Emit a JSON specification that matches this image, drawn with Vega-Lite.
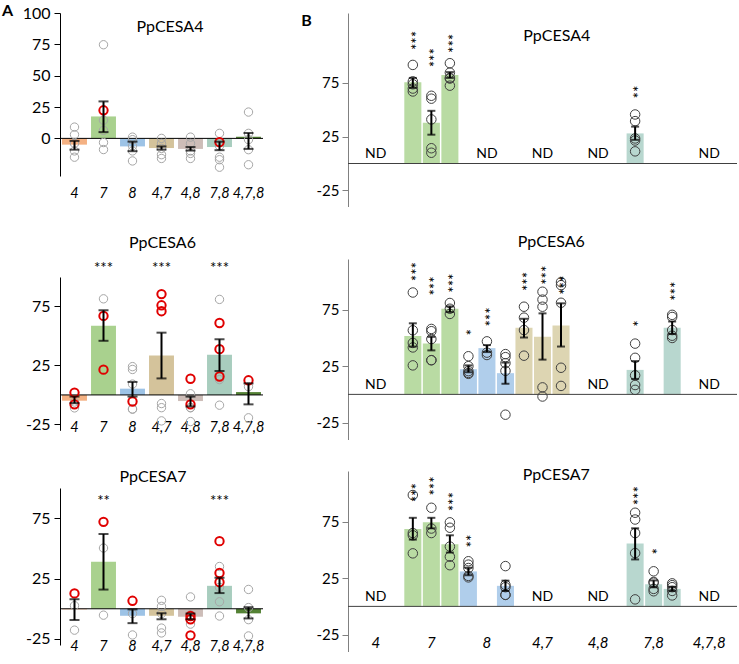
{
"$schema":"https://vega.github.io/schema/vega-lite/v6.json",
"padding":{"left":2,"top":3,"right":0,"bottom":0},
"config":{
 "font":"Lato",
 "view":{"stroke":null},
 "axis":{"grid":false,"labelFont":"Lato","labelColor":"#000","labelOverlap":false},
 "text":{"font":"Lato","color":"#000"}
},
"datasets":{
 "aBars":[
  {"gene":"CESA4","geno":"4","mean":-5,"lo":-9,"hi":-2},
  {"gene":"CESA4","geno":"7","mean":17.5,"lo":5,"hi":29.5},
  {"gene":"CESA4","geno":"8","mean":-6.4,"lo":-10.2,"hi":-2.6},
  {"gene":"CESA4","geno":"4,7","mean":-7.7,"lo":-8.9,"hi":-6.4},
  {"gene":"CESA4","geno":"4,8","mean":-8.4,"lo":-9.7,"hi":-6.9},
  {"gene":"CESA4","geno":"7,8","mean":-6.9,"lo":-9.4,"hi":-2.6},
  {"gene":"CESA4","geno":"4,7,8","mean":1.3,"lo":-8.4,"hi":4.3},
  {"gene":"CESA6","geno":"4","mean":-4.9,"lo":-6.9,"hi":-1.4},
  {"gene":"CESA6","geno":"7","mean":58.6,"lo":45.9,"hi":71.8,"sig":"***"},
  {"gene":"CESA6","geno":"8","mean":5.3,"lo":-1.4,"hi":11},
  {"gene":"CESA6","geno":"4,7","mean":33.5,"lo":14,"hi":52.8,"sig":"***"},
  {"gene":"CESA6","geno":"4,8","mean":-5.2,"lo":-9.7,"hi":-1.4},
  {"gene":"CESA6","geno":"7,8","mean":34,"lo":20.3,"hi":47.2,"sig":"***"},
  {"gene":"CESA6","geno":"4,7,8","mean":2.4,"lo":-8,"hi":9.8},
  {"gene":"CESA7","geno":"4","mean":-0.5,"lo":-9.3,"hi":7.9},
  {"gene":"CESA7","geno":"7","mean":38.9,"lo":15.9,"hi":61.9,"sig":"**"},
  {"gene":"CESA7","geno":"8","mean":-5.8,"lo":-11.9,"hi":-0.5},
  {"gene":"CESA7","geno":"4,7","mean":-5.8,"lo":-8.7,"hi":-3.7},
  {"gene":"CESA7","geno":"4,8","mean":-6.6,"lo":-8.7,"hi":-4},
  {"gene":"CESA7","geno":"7,8","mean":19,"lo":13,"hi":25.7,"sig":"***"},
  {"gene":"CESA7","geno":"4,7,8","mean":-3.8,"lo":-8,"hi":1.3}
 ],
 "aPts":[
  {"gene":"CESA4","geno":"4","value":9,"kind":"g"},{"gene":"CESA4","geno":"4","value":3,"kind":"g"},{"gene":"CESA4","geno":"4","value":-4,"kind":"g"},{"gene":"CESA4","geno":"4","value":-10,"kind":"g"},{"gene":"CESA4","geno":"4","value":-15,"kind":"g"},
  {"gene":"CESA4","geno":"7","value":74.7,"kind":"g"},{"gene":"CESA4","geno":"7","value":14.5,"kind":"g"},{"gene":"CESA4","geno":"7","value":6.4,"kind":"g"},{"gene":"CESA4","geno":"7","value":-3.3,"kind":"g"},{"gene":"CESA4","geno":"7","value":-8.9,"kind":"g"},{"gene":"CESA4","geno":"7","value":22.4,"kind":"r"},
  {"gene":"CESA4","geno":"8","value":1,"kind":"g"},{"gene":"CESA4","geno":"8","value":-1,"kind":"g"},{"gene":"CESA4","geno":"8","value":-6,"kind":"g"},{"gene":"CESA4","geno":"8","value":-10,"kind":"g"},{"gene":"CESA4","geno":"8","value":-18,"kind":"g"},
  {"gene":"CESA4","geno":"4,7","value":0,"kind":"g"},{"gene":"CESA4","geno":"4,7","value":-4,"kind":"g"},{"gene":"CESA4","geno":"4,7","value":-8,"kind":"g"},{"gene":"CESA4","geno":"4,7","value":-13,"kind":"g"},{"gene":"CESA4","geno":"4,7","value":-16,"kind":"g"},
  {"gene":"CESA4","geno":"4,8","value":1,"kind":"g"},{"gene":"CESA4","geno":"4,8","value":-4,"kind":"g"},{"gene":"CESA4","geno":"4,8","value":-10,"kind":"g"},{"gene":"CESA4","geno":"4,8","value":-12,"kind":"g"},{"gene":"CESA4","geno":"4,8","value":-16,"kind":"g"},
  {"gene":"CESA4","geno":"7,8","value":4,"kind":"g"},{"gene":"CESA4","geno":"7,8","value":-6,"kind":"g"},{"gene":"CESA4","geno":"7,8","value":-15,"kind":"g"},{"gene":"CESA4","geno":"7,8","value":-17,"kind":"g"},{"gene":"CESA4","geno":"7,8","value":-23,"kind":"g"},{"gene":"CESA4","geno":"7,8","value":-3,"kind":"r"},
  {"gene":"CESA4","geno":"4,7,8","value":21,"kind":"g"},{"gene":"CESA4","geno":"4,7,8","value":4,"kind":"g"},{"gene":"CESA4","geno":"4,7,8","value":-1,"kind":"g"},{"gene":"CESA4","geno":"4,7,8","value":-9,"kind":"g"},{"gene":"CESA4","geno":"4,7,8","value":-21,"kind":"g"},
  {"gene":"CESA6","geno":"4","value":-11,"kind":"g"},{"gene":"CESA6","geno":"4","value":-6,"kind":"g"},{"gene":"CESA6","geno":"4","value":2,"kind":"r"},{"gene":"CESA6","geno":"4","value":-8,"kind":"r"},
  {"gene":"CESA6","geno":"7","value":81.5,"kind":"g"},{"gene":"CESA6","geno":"7","value":67,"kind":"r"},{"gene":"CESA6","geno":"7","value":21.4,"kind":"r"},
  {"gene":"CESA6","geno":"8","value":21.6,"kind":"g"},{"gene":"CESA6","geno":"8","value":24,"kind":"g"},{"gene":"CESA6","geno":"8","value":9.2,"kind":"g"},{"gene":"CESA6","geno":"8","value":-12,"kind":"g"},{"gene":"CESA6","geno":"8","value":-12,"kind":"g"},{"gene":"CESA6","geno":"8","value":-5.6,"kind":"r"},
  {"gene":"CESA6","geno":"4,7","value":-7.3,"kind":"g"},{"gene":"CESA6","geno":"4,7","value":-10.8,"kind":"g"},{"gene":"CESA6","geno":"4,7","value":-22,"kind":"g"},{"gene":"CESA6","geno":"4,7","value":71,"kind":"r"},{"gene":"CESA6","geno":"4,7","value":76,"kind":"r"},{"gene":"CESA6","geno":"4,7","value":85.5,"kind":"r"},
  {"gene":"CESA6","geno":"4,8","value":-10.8,"kind":"g"},{"gene":"CESA6","geno":"4,8","value":-10.8,"kind":"g"},{"gene":"CESA6","geno":"4,8","value":-22.6,"kind":"g"},{"gene":"CESA6","geno":"4,8","value":1,"kind":"g"},{"gene":"CESA6","geno":"4,8","value":13.7,"kind":"r"},{"gene":"CESA6","geno":"4,8","value":-8,"kind":"r"},
  {"gene":"CESA6","geno":"7,8","value":81,"kind":"g"},{"gene":"CESA6","geno":"7,8","value":13,"kind":"g"},{"gene":"CESA6","geno":"7,8","value":-8.7,"kind":"g"},{"gene":"CESA6","geno":"7,8","value":61,"kind":"r"},{"gene":"CESA6","geno":"7,8","value":38.8,"kind":"r"},{"gene":"CESA6","geno":"7,8","value":15.6,"kind":"r"},
  {"gene":"CESA6","geno":"4,7,8","value":7,"kind":"g"},{"gene":"CESA6","geno":"4,7,8","value":-19.4,"kind":"g"},{"gene":"CESA6","geno":"4,7,8","value":12.4,"kind":"r"},
  {"gene":"CESA7","geno":"4","value":2.6,"kind":"g"},{"gene":"CESA7","geno":"4","value":-17.7,"kind":"g"},{"gene":"CESA7","geno":"4","value":12.7,"kind":"r"},
  {"gene":"CESA7","geno":"7","value":50.3,"kind":"g"},{"gene":"CESA7","geno":"7","value":-5.3,"kind":"g"},{"gene":"CESA7","geno":"7","value":72,"kind":"r"},
  {"gene":"CESA7","geno":"8","value":-4,"kind":"g"},{"gene":"CESA7","geno":"8","value":-21.7,"kind":"g"},{"gene":"CESA7","geno":"8","value":6.6,"kind":"r"},
  {"gene":"CESA7","geno":"4,7","value":2,"kind":"g"},{"gene":"CESA7","geno":"4,7","value":7,"kind":"g"},{"gene":"CESA7","geno":"4,7","value":-4,"kind":"g"},{"gene":"CESA7","geno":"4,7","value":-16,"kind":"g"},{"gene":"CESA7","geno":"4,7","value":-20,"kind":"g"},
  {"gene":"CESA7","geno":"4,8","value":9.8,"kind":"g"},{"gene":"CESA7","geno":"4,8","value":-12.7,"kind":"g"},{"gene":"CESA7","geno":"4,8","value":-5,"kind":"g"},{"gene":"CESA7","geno":"4,8","value":-6,"kind":"r"},{"gene":"CESA7","geno":"4,8","value":-8.7,"kind":"r"},{"gene":"CESA7","geno":"4,8","value":-22,"kind":"r"},
  {"gene":"CESA7","geno":"7,8","value":35,"kind":"g"},{"gene":"CESA7","geno":"7,8","value":17.7,"kind":"g"},{"gene":"CESA7","geno":"7,8","value":5.8,"kind":"g"},{"gene":"CESA7","geno":"7,8","value":-6,"kind":"g"},{"gene":"CESA7","geno":"7,8","value":56,"kind":"r"},{"gene":"CESA7","geno":"7,8","value":29.6,"kind":"r"},{"gene":"CESA7","geno":"7,8","value":22,"kind":"r"},
  {"gene":"CESA7","geno":"4,7,8","value":16,"kind":"g"},{"gene":"CESA7","geno":"4,7,8","value":1,"kind":"g"},{"gene":"CESA7","geno":"4,7,8","value":-9,"kind":"g"},{"gene":"CESA7","geno":"4,7,8","value":-22.5,"kind":"g"}
 ],
 "bBars":[
  {"gene":"CESA4","grp":"7","slot":"7|1","mean":75.6,"lo":70.5,"hi":79.6,"sig":"***","sy":120.6},
  {"gene":"CESA4","grp":"7","slot":"7|2","mean":38,"lo":26.8,"hi":49,"sig":"***","sy":104.6},
  {"gene":"CESA4","grp":"7","slot":"7|3","mean":82.3,"lo":79.6,"hi":85,"sig":"***","sy":118},
  {"gene":"CESA4","grp":"7,8","slot":"7,8|1","mean":28,"lo":22,"hi":34.3,"sig":"**","sy":69.7},
  {"gene":"CESA6","grp":"7","slot":"7|1","mean":51.7,"lo":42.4,"hi":63,"sig":"***","sy":114.7},
  {"gene":"CESA6","grp":"7","slot":"7|2","mean":45,"lo":39,"hi":51,"sig":"***","sy":102},
  {"gene":"CESA6","grp":"7","slot":"7|3","mean":75.9,"lo":73,"hi":78,"sig":"***","sy":104.5},
  {"gene":"CESA6","grp":"8","slot":"8|1","mean":22.3,"lo":19.6,"hi":25.7,"sig":"*","sy":55.2},
  {"gene":"CESA6","grp":"8","slot":"8|2","mean":41,"lo":37.5,"hi":43.7,"sig":"***","sy":74.5},
  {"gene":"CESA6","grp":"8","slot":"8|3","mean":18.8,"lo":9.4,"hi":28.2},
  {"gene":"CESA6","grp":"4,7","slot":"4,7|1","mean":59,"lo":50.4,"hi":67,"sig":"***","sy":106},
  {"gene":"CESA6","grp":"4,7","slot":"4,7|2","mean":51,"lo":30.8,"hi":71.8,"sig":"***","sy":111.5},
  {"gene":"CESA6","grp":"4,7","slot":"4,7|3","mean":61,"lo":42.4,"hi":80.7,"sig":"***","sy":102.7},
  {"gene":"CESA6","grp":"7,8","slot":"7,8|1","mean":21.7,"lo":13.7,"hi":29.5,"sig":"*","sy":63},
  {"gene":"CESA6","grp":"7,8","slot":"7,8|3","mean":59,"lo":53.6,"hi":64.6,"sig":"***","sy":97.3},
  {"gene":"CESA7","grp":"7","slot":"7|1","mean":68.6,"lo":59.2,"hi":78.5,"sig":"***","sy":106.7},
  {"gene":"CESA7","grp":"7","slot":"7|2","mean":74.5,"lo":69.2,"hi":78.5,"sig":"***","sy":112.6},
  {"gene":"CESA7","grp":"7","slot":"7|3","mean":55,"lo":47.7,"hi":63,"sig":"***","sy":98.7},
  {"gene":"CESA7","grp":"8","slot":"8|1","mean":31,"lo":27.6,"hi":34.3,"sig":"**","sy":61},
  {"gene":"CESA7","grp":"8","slot":"8|3","mean":18.2,"lo":13.7,"hi":22.8},
  {"gene":"CESA7","grp":"7,8","slot":"7,8|1","mean":55.8,"lo":41.6,"hi":69.2,"sig":"***","sy":104},
  {"gene":"CESA7","grp":"7,8","slot":"7,8|2","mean":19.6,"lo":16.9,"hi":23,"sig":"*","sy":49},
  {"gene":"CESA7","grp":"7,8","slot":"7,8|3","mean":15.5,"lo":13.7,"hi":17.4}
 ],
 "bPts":[
  {"gene":"CESA4","slot":"7|1","value":91.7},{"gene":"CESA4","slot":"7|1","value":76.4},{"gene":"CESA4","slot":"7|1","value":73.7},{"gene":"CESA4","slot":"7|1","value":69.7},{"gene":"CESA4","slot":"7|1","value":67},
  {"gene":"CESA4","slot":"7|2","value":63},{"gene":"CESA4","slot":"7|2","value":60.3},{"gene":"CESA4","slot":"7|2","value":41},{"gene":"CESA4","slot":"7|2","value":14.2},{"gene":"CESA4","slot":"7|2","value":10},
  {"gene":"CESA4","slot":"7|3","value":93.3},{"gene":"CESA4","slot":"7|3","value":84.5},{"gene":"CESA4","slot":"7|3","value":79.6},{"gene":"CESA4","slot":"7|3","value":79},{"gene":"CESA4","slot":"7|3","value":72.4},
  {"gene":"CESA4","slot":"7,8|1","value":45.6},{"gene":"CESA4","slot":"7,8|1","value":39.4},{"gene":"CESA4","slot":"7,8|1","value":23.3},{"gene":"CESA4","slot":"7,8|1","value":21.4},{"gene":"CESA4","slot":"7,8|1","value":11.3},
  {"gene":"CESA6","slot":"7|1","value":90.3},{"gene":"CESA6","slot":"7|1","value":56.8},{"gene":"CESA6","slot":"7|1","value":45.6},{"gene":"CESA6","slot":"7|1","value":41.6},{"gene":"CESA6","slot":"7|1","value":25.7},
  {"gene":"CESA6","slot":"7|2","value":58},{"gene":"CESA6","slot":"7|2","value":56},{"gene":"CESA6","slot":"7|2","value":49},{"gene":"CESA6","slot":"7|2","value":30.3},{"gene":"CESA6","slot":"7|2","value":30.3},
  {"gene":"CESA6","slot":"7|3","value":81},{"gene":"CESA6","slot":"7|3","value":75.9},{"gene":"CESA6","slot":"7|3","value":71.3},
  {"gene":"CESA6","slot":"8|1","value":33.8},{"gene":"CESA6","slot":"8|1","value":25},{"gene":"CESA6","slot":"8|1","value":20.6},{"gene":"CESA6","slot":"8|1","value":18.2},{"gene":"CESA6","slot":"8|1","value":19},
  {"gene":"CESA6","slot":"8|2","value":47},{"gene":"CESA6","slot":"8|2","value":37},{"gene":"CESA6","slot":"8|2","value":34.9},
  {"gene":"CESA6","slot":"8|3","value":35.7},{"gene":"CESA6","slot":"8|3","value":33},{"gene":"CESA6","slot":"8|3","value":27.6},{"gene":"CESA6","slot":"8|3","value":20.9},{"gene":"CESA6","slot":"8|3","value":-18},
  {"gene":"CESA6","slot":"4,7|1","value":77.7},{"gene":"CESA6","slot":"4,7|1","value":68},{"gene":"CESA6","slot":"4,7|1","value":57},{"gene":"CESA6","slot":"4,7|1","value":34.3},
  {"gene":"CESA6","slot":"4,7|2","value":91},{"gene":"CESA6","slot":"4,7|2","value":84},{"gene":"CESA6","slot":"4,7|2","value":77.7},{"gene":"CESA6","slot":"4,7|2","value":6.2},{"gene":"CESA6","slot":"4,7|2","value":-1.9},
  {"gene":"CESA6","slot":"4,7|3","value":99.5},{"gene":"CESA6","slot":"4,7|3","value":96.8},{"gene":"CESA6","slot":"4,7|3","value":81.2},{"gene":"CESA6","slot":"4,7|3","value":23.6},{"gene":"CESA6","slot":"4,7|3","value":7.5},
  {"gene":"CESA6","slot":"7,8|1","value":45},{"gene":"CESA6","slot":"7,8|1","value":32.4},{"gene":"CESA6","slot":"7,8|1","value":16.9},{"gene":"CESA6","slot":"7,8|1","value":8.3},{"gene":"CESA6","slot":"7,8|1","value":4},
  {"gene":"CESA6","slot":"7,8|3","value":70.5},{"gene":"CESA6","slot":"7,8|3","value":68.6},{"gene":"CESA6","slot":"7,8|3","value":57},{"gene":"CESA6","slot":"7,8|3","value":52},{"gene":"CESA6","slot":"7,8|3","value":50},
  {"gene":"CESA7","slot":"7|1","value":98.7},{"gene":"CESA7","slot":"7|1","value":65},{"gene":"CESA7","slot":"7|1","value":63},{"gene":"CESA7","slot":"7|1","value":47},
  {"gene":"CESA7","slot":"7|2","value":87.4},{"gene":"CESA7","slot":"7|2","value":69},{"gene":"CESA7","slot":"7|2","value":65},
  {"gene":"CESA7","slot":"7|3","value":74.5},{"gene":"CESA7","slot":"7|3","value":69.7},{"gene":"CESA7","slot":"7|3","value":53},{"gene":"CESA7","slot":"7|3","value":44},{"gene":"CESA7","slot":"7|3","value":36.5},
  {"gene":"CESA7","slot":"8|1","value":40},{"gene":"CESA7","slot":"8|1","value":37},{"gene":"CESA7","slot":"8|1","value":34},{"gene":"CESA7","slot":"8|1","value":27},{"gene":"CESA7","slot":"8|1","value":25.7},
  {"gene":"CESA7","slot":"8|3","value":35.7},{"gene":"CESA7","slot":"8|3","value":19},{"gene":"CESA7","slot":"8|3","value":17},{"gene":"CESA7","slot":"8|3","value":10.2},{"gene":"CESA7","slot":"8|3","value":10.2},
  {"gene":"CESA7","slot":"7,8|1","value":83},{"gene":"CESA7","slot":"7,8|1","value":77},{"gene":"CESA7","slot":"7,8|1","value":65},{"gene":"CESA7","slot":"7,8|1","value":47.2},{"gene":"CESA7","slot":"7,8|1","value":6.2},
  {"gene":"CESA7","slot":"7,8|2","value":31.1},{"gene":"CESA7","slot":"7,8|2","value":21.7},{"gene":"CESA7","slot":"7,8|2","value":21},{"gene":"CESA7","slot":"7,8|2","value":15.5},{"gene":"CESA7","slot":"7,8|2","value":13.4},
  {"gene":"CESA7","slot":"7,8|3","value":20.4},{"gene":"CESA7","slot":"7,8|3","value":18.8},{"gene":"CESA7","slot":"7,8|3","value":17},{"gene":"CESA7","slot":"7,8|3","value":13.7},{"gene":"CESA7","slot":"7,8|3","value":9.7}
 ],
 "nd":[
  {"gene":"CESA4","slot":"4|2"},{"gene":"CESA4","slot":"8|2"},{"gene":"CESA4","slot":"4,7|2"},{"gene":"CESA4","slot":"4,8|2"},{"gene":"CESA4","slot":"4,7,8|2"},
  {"gene":"CESA6","slot":"4|2"},{"gene":"CESA6","slot":"4,8|2"},{"gene":"CESA6","slot":"4,7,8|2"},
  {"gene":"CESA7","slot":"4|2"},{"gene":"CESA7","slot":"4,7|2"},{"gene":"CESA7","slot":"4,8|2"},{"gene":"CESA7","slot":"4,7,8|2"}
 ]
},
"spacing":37,
"resolve":{"scale":{"x":"independent","y":"independent","color":"independent"}},
"hconcat":[
 {"spacing":34,
  "resolve":{"scale":{"x":"independent","y":"independent","color":"independent"}},
  "vconcat":[
  {"width":203,"height":163,
   "layer":[
    {"data":{"name":"aBars"},"transform":[{"filter":"datum.gene=='CESA4'"}],"mark":{"type":"bar","width":{"band":0.86}},
     "encoding":{
      "x":{"field":"geno","type":"nominal","scale":{"domain":["4","7","8","4,7","4,8","7,8","4,7,8"],"paddingInner":0,"paddingOuter":0},"axis":{"title":null,"domain":false,"ticks":false,"tickSize":0,"labelAngle":0,"labelFontStyle":"italic","labelFontSize":14.5,"labelPadding":10}},
      "y":{"field":"mean","type":"quantitative","scale":{"domain":[-25,100]},"axis":{"values":[0,25,50,75,100],"labelExpr":"''+datum.value","title":null,"tickSize":6,"tickColor":"#000","domainColor":"#000","labelFontSize":16,"labelPadding":4}},
      "y2":{"datum":0},
      "color":{"field":"geno","type":"nominal","scale":{"domain":["4","7","8","4,7","4,8","7,8","4,7,8"],"range":["#F4B183","#A9D18E","#9DC3E6","#D4C39B","#CDBDB8","#A8CDBE","#548235"]},"legend":null}}},
    {"data":{"values":[{}]},"mark":{"type":"rule","color":"#000","strokeWidth":1},"encoding":{"y":{"datum":0}}},
    {"data":{"name":"aPts"},"transform":[{"filter":"datum.gene=='CESA4' && datum.kind=='g'"}],"mark":{"type":"point","filled":false,"size":70,"stroke":"#A6A6A6","strokeWidth":1,"opacity":1},"encoding":{"x":{"field":"geno","type":"nominal"},"y":{"field":"value","type":"quantitative"}}},
    {"data":{"name":"aPts"},"transform":[{"filter":"datum.gene=='CESA4' && datum.kind=='r'"}],"mark":{"type":"point","filled":false,"size":70,"stroke":"#E00000","strokeWidth":2,"opacity":1},"encoding":{"x":{"field":"geno","type":"nominal"},"y":{"field":"value","type":"quantitative"}}},
    {"data":{"name":"aBars"},"transform":[{"filter":"datum.gene=='CESA4'"}],"mark":{"type":"rule","strokeWidth":2,"color":"#000"},"encoding":{"x":{"field":"geno","type":"nominal"},"y":{"field":"lo","type":"quantitative"},"y2":{"field":"hi"}}},
    {"data":{"name":"aBars"},"transform":[{"filter":"datum.gene=='CESA4'"}],"mark":{"type":"tick","size":10,"thickness":2,"color":"#000"},"encoding":{"x":{"field":"geno","type":"nominal"},"y":{"field":"lo","type":"quantitative"}}},
    {"data":{"name":"aBars"},"transform":[{"filter":"datum.gene=='CESA4'"}],"mark":{"type":"tick","size":10,"thickness":2,"color":"#000"},"encoding":{"x":{"field":"geno","type":"nominal"},"y":{"field":"hi","type":"quantitative"}}},
    {"data":{"values":[{}]},"mark":{"type":"text","text":"A","fontSize":16,"fontWeight":"bold","align":"left","baseline":"top","dx":-159.5,"dy":-10},"encoding":{"y":{"datum":100}}},
    {"data":{"values":[{}]},"mark":{"type":"text","text":"PpCESA4","fontSize":16,"baseline":"middle","dx":8.5},"encoding":{"y":{"datum":88.5}}}
   ]
  },
  {"width":203,"height":153.3,
   "layer":[
    {"data":{"name":"aBars"},"transform":[{"filter":"datum.gene=='CESA6'"}],"mark":{"type":"bar","width":{"band":0.86}},
     "encoding":{
      "x":{"field":"geno","type":"nominal","scale":{"domain":["4","7","8","4,7","4,8","7,8","4,7,8"],"paddingInner":0,"paddingOuter":0},"axis":{"title":null,"domain":false,"ticks":false,"tickSize":0,"labelAngle":0,"labelFontStyle":"italic","labelFontSize":14.5,"labelPadding":-10}},
      "y":{"field":"mean","type":"quantitative","scale":{"domain":[-25,100]},"axis":{"values":[-25,0,25,50,75,100],"labelExpr":"''+datum.value","title":null,"tickSize":6,"tickColor":"#000","domainColor":"#000","labelFontSize":16,"labelPadding":4}},
      "y2":{"datum":0},
      "color":{"field":"geno","type":"nominal","scale":{"domain":["4","7","8","4,7","4,8","7,8","4,7,8"],"range":["#F4B183","#A9D18E","#9DC3E6","#D4C39B","#CDBDB8","#A8CDBE","#548235"]},"legend":null}}},
    {"data":{"values":[{}]},"mark":{"type":"rule","color":"#000","strokeWidth":1},"encoding":{"y":{"datum":0}}},
    {"data":{"name":"aPts"},"transform":[{"filter":"datum.gene=='CESA6' && datum.kind=='g'"}],"mark":{"type":"point","filled":false,"size":70,"stroke":"#A6A6A6","strokeWidth":1,"opacity":1},"encoding":{"x":{"field":"geno","type":"nominal"},"y":{"field":"value","type":"quantitative"}}},
    {"data":{"name":"aPts"},"transform":[{"filter":"datum.gene=='CESA6' && datum.kind=='r'"}],"mark":{"type":"point","filled":false,"size":70,"stroke":"#E00000","strokeWidth":2,"opacity":1},"encoding":{"x":{"field":"geno","type":"nominal"},"y":{"field":"value","type":"quantitative"}}},
    {"data":{"name":"aBars"},"transform":[{"filter":"datum.gene=='CESA6'"}],"mark":{"type":"rule","strokeWidth":2,"color":"#000"},"encoding":{"x":{"field":"geno","type":"nominal"},"y":{"field":"lo","type":"quantitative"},"y2":{"field":"hi"}}},
    {"data":{"name":"aBars"},"transform":[{"filter":"datum.gene=='CESA6'"}],"mark":{"type":"tick","size":10,"thickness":2,"color":"#000"},"encoding":{"x":{"field":"geno","type":"nominal"},"y":{"field":"lo","type":"quantitative"}}},
    {"data":{"name":"aBars"},"transform":[{"filter":"datum.gene=='CESA6'"}],"mark":{"type":"tick","size":10,"thickness":2,"color":"#000"},"encoding":{"x":{"field":"geno","type":"nominal"},"y":{"field":"hi","type":"quantitative"}}},
    {"data":{"name":"aBars"},"transform":[{"filter":"datum.gene=='CESA6' && datum.sig"}],"mark":{"type":"text","fontSize":15,"baseline":"middle","dy":4},"encoding":{"x":{"field":"geno","type":"nominal"},"y":{"datum":110.9},"text":{"field":"sig"}}},
    {"data":{"values":[{}]},"mark":{"type":"text","text":"PpCESA6","fontSize":16,"baseline":"middle","dx":1},"encoding":{"y":{"datum":129.1}}}
   ]
  },
  {"width":203,"height":157,
   "layer":[
    {"data":{"name":"aBars"},"transform":[{"filter":"datum.gene=='CESA7'"}],"mark":{"type":"bar","width":{"band":0.86}},
     "encoding":{
      "x":{"field":"geno","type":"nominal","scale":{"domain":["4","7","8","4,7","4,8","7,8","4,7,8"],"paddingInner":0,"paddingOuter":0},"axis":{"title":null,"domain":false,"ticks":false,"tickSize":0,"labelAngle":0,"labelFontStyle":"italic","labelFontSize":14.5,"labelPadding":-5.7}},
      "y":{"field":"mean","type":"quantitative","scale":{"domain":[-25,100]},"axis":{"values":[-25,0,25,50,75,100],"labelExpr":"''+datum.value","title":null,"tickSize":6,"tickColor":"#000","domainColor":"#000","labelFontSize":16,"labelPadding":4}},
      "y2":{"datum":0},
      "color":{"field":"geno","type":"nominal","scale":{"domain":["4","7","8","4,7","4,8","7,8","4,7,8"],"range":["#F4B183","#A9D18E","#9DC3E6","#D4C39B","#CDBDB8","#A8CDBE","#548235"]},"legend":null}}},
    {"data":{"values":[{}]},"mark":{"type":"rule","color":"#000","strokeWidth":1},"encoding":{"y":{"datum":0}}},
    {"data":{"name":"aPts"},"transform":[{"filter":"datum.gene=='CESA7' && datum.kind=='g'"}],"mark":{"type":"point","filled":false,"size":70,"stroke":"#A6A6A6","strokeWidth":1,"opacity":1},"encoding":{"x":{"field":"geno","type":"nominal"},"y":{"field":"value","type":"quantitative"}}},
    {"data":{"name":"aPts"},"transform":[{"filter":"datum.gene=='CESA7' && datum.kind=='r'"}],"mark":{"type":"point","filled":false,"size":70,"stroke":"#E00000","strokeWidth":2,"opacity":1},"encoding":{"x":{"field":"geno","type":"nominal"},"y":{"field":"value","type":"quantitative"}}},
    {"data":{"name":"aBars"},"transform":[{"filter":"datum.gene=='CESA7'"}],"mark":{"type":"rule","strokeWidth":2,"color":"#000"},"encoding":{"x":{"field":"geno","type":"nominal"},"y":{"field":"lo","type":"quantitative"},"y2":{"field":"hi"}}},
    {"data":{"name":"aBars"},"transform":[{"filter":"datum.gene=='CESA7'"}],"mark":{"type":"tick","size":10,"thickness":2,"color":"#000"},"encoding":{"x":{"field":"geno","type":"nominal"},"y":{"field":"lo","type":"quantitative"}}},
    {"data":{"name":"aBars"},"transform":[{"filter":"datum.gene=='CESA7'"}],"mark":{"type":"tick","size":10,"thickness":2,"color":"#000"},"encoding":{"x":{"field":"geno","type":"nominal"},"y":{"field":"hi","type":"quantitative"}}},
    {"data":{"name":"aBars"},"transform":[{"filter":"datum.gene=='CESA7' && datum.sig"}],"mark":{"type":"text","fontSize":15,"baseline":"middle","dy":4},"encoding":{"x":{"field":"geno","type":"nominal"},"y":{"datum":92.9},"text":{"field":"sig"}}},
    {"data":{"values":[{}]},"mark":{"type":"text","text":"PpCESA7","fontSize":16,"baseline":"middle","dx":-8.5},"encoding":{"y":{"datum":109.3}}}
   ]
  }
 ]},
 {"spacing":26,
  "resolve":{"scale":{"x":"independent","y":"independent","color":"independent"}},
  "vconcat":[
  {"width":389,"height":193.5,
   "layer":[
    {"data":{"name":"bBars"},"transform":[{"filter":"datum.gene=='CESA4'"}],"mark":{"type":"bar","width":{"band":0.92}},
     "encoding":{
      "x":{"field":"slot","type":"nominal","scale":{"domain":["4|1","4|2","4|3","7|1","7|2","7|3","8|1","8|2","8|3","4,7|1","4,7|2","4,7|3","4,8|1","4,8|2","4,8|3","7,8|1","7,8|2","7,8|3","4,7,8|1","4,7,8|2","4,7,8|3"],"paddingInner":0,"paddingOuter":0},"axis":{"title":null,"domain":false,"ticks":false,"labels":false}},
      "y":{"field":"mean","type":"quantitative","scale":{"domain":[-25,130.44]},"axis":{"values":[-25,0,25,50,75,100],"labelExpr":"''+datum.value","title":null,"tickSize":6,"tickColor":"#808080","domainColor":"#808080","labelFontSize":15,"labelPadding":3}},
      "y2":{"datum":0},
      "color":{"field":"grp","type":"nominal","scale":{"domain":["7","8","4,7","7,8"],"range":["#B9DBA3","#B0CEEB","#DDD5B2","#B8D7CF"]},"legend":null}}},
    {"data":{"values":[{}]},"mark":{"type":"rule","color":"#404040","strokeWidth":1},"encoding":{"y":{"datum":0}}},
    {"data":{"name":"bPts"},"transform":[{"filter":"datum.gene=='CESA4'"}],"mark":{"type":"point","filled":false,"size":90,"stroke":"#404040","strokeWidth":1,"opacity":1},"encoding":{"x":{"field":"slot","type":"nominal"},"y":{"field":"value","type":"quantitative"}}},
    {"data":{"name":"bBars"},"transform":[{"filter":"datum.gene=='CESA4'"}],"mark":{"type":"rule","strokeWidth":2,"color":"#000"},"encoding":{"x":{"field":"slot","type":"nominal"},"y":{"field":"lo","type":"quantitative"},"y2":{"field":"hi"}}},
    {"data":{"name":"bBars"},"transform":[{"filter":"datum.gene=='CESA4'"}],"mark":{"type":"tick","size":8,"thickness":2,"color":"#000"},"encoding":{"x":{"field":"slot","type":"nominal"},"y":{"field":"lo","type":"quantitative"}}},
    {"data":{"name":"bBars"},"transform":[{"filter":"datum.gene=='CESA4'"}],"mark":{"type":"tick","size":8,"thickness":2,"color":"#000"},"encoding":{"x":{"field":"slot","type":"nominal"},"y":{"field":"hi","type":"quantitative"}}},
    {"data":{"name":"bBars"},"transform":[{"filter":"datum.gene=='CESA4' && datum.sig"}],"mark":{"type":"text","fontSize":15,"angle":90,"align":"left","baseline":"middle","dx":-3,"dy":3},"encoding":{"x":{"field":"slot","type":"nominal"},"y":{"field":"sy","type":"quantitative"},"text":{"field":"sig"}}},
    {"data":{"name":"nd"},"transform":[{"filter":"datum.gene=='CESA4'"}],"mark":{"type":"text","text":"ND","fontSize":14,"baseline":"middle"},"encoding":{"x":{"field":"slot","type":"nominal"},"y":{"datum":8.5}}},
    {"data":{"values":[{}]},"mark":{"type":"text","text":"B","fontSize":16,"fontWeight":"bold","align":"left","baseline":"top","dx":-241.2,"dy":-10},"encoding":{"y":{"datum":130.44}}},
    {"data":{"values":[{}]},"mark":{"type":"text","text":"PpCESA4","fontSize":16,"baseline":"middle","dx":14.3},"encoding":{"y":{"datum":118.3}}}
   ]
  },
  {"width":389,"height":180.5,
   "layer":[
    {"data":{"name":"bBars"},"transform":[{"filter":"datum.gene=='CESA6'"}],"mark":{"type":"bar","width":{"band":0.92}},
     "encoding":{
      "x":{"field":"slot","type":"nominal","scale":{"domain":["4|1","4|2","4|3","7|1","7|2","7|3","8|1","8|2","8|3","4,7|1","4,7|2","4,7|3","4,8|1","4,8|2","4,8|3","7,8|1","7,8|2","7,8|3","4,7,8|1","4,7,8|2","4,7,8|3"],"paddingInner":0,"paddingOuter":0},"axis":{"title":null,"domain":false,"ticks":false,"labels":false}},
      "y":{"field":"mean","type":"quantitative","scale":{"domain":[-25,120]},"axis":{"values":[-25,0,25,50,75,100],"labelExpr":"''+datum.value","title":null,"tickSize":6,"tickColor":"#808080","domainColor":"#808080","labelFontSize":15,"labelPadding":3}},
      "y2":{"datum":0},
      "color":{"field":"grp","type":"nominal","scale":{"domain":["7","8","4,7","7,8"],"range":["#B9DBA3","#B0CEEB","#DDD5B2","#B8D7CF"]},"legend":null}}},
    {"data":{"values":[{}]},"mark":{"type":"rule","color":"#404040","strokeWidth":1},"encoding":{"y":{"datum":0}}},
    {"data":{"name":"bPts"},"transform":[{"filter":"datum.gene=='CESA6'"}],"mark":{"type":"point","filled":false,"size":90,"stroke":"#404040","strokeWidth":1,"opacity":1},"encoding":{"x":{"field":"slot","type":"nominal"},"y":{"field":"value","type":"quantitative"}}},
    {"data":{"name":"bBars"},"transform":[{"filter":"datum.gene=='CESA6'"}],"mark":{"type":"rule","strokeWidth":2,"color":"#000"},"encoding":{"x":{"field":"slot","type":"nominal"},"y":{"field":"lo","type":"quantitative"},"y2":{"field":"hi"}}},
    {"data":{"name":"bBars"},"transform":[{"filter":"datum.gene=='CESA6'"}],"mark":{"type":"tick","size":8,"thickness":2,"color":"#000"},"encoding":{"x":{"field":"slot","type":"nominal"},"y":{"field":"lo","type":"quantitative"}}},
    {"data":{"name":"bBars"},"transform":[{"filter":"datum.gene=='CESA6'"}],"mark":{"type":"tick","size":8,"thickness":2,"color":"#000"},"encoding":{"x":{"field":"slot","type":"nominal"},"y":{"field":"hi","type":"quantitative"}}},
    {"data":{"name":"bBars"},"transform":[{"filter":"datum.gene=='CESA6' && datum.sig"}],"mark":{"type":"text","fontSize":15,"angle":90,"align":"left","baseline":"middle","dx":-3,"dy":3},"encoding":{"x":{"field":"slot","type":"nominal"},"y":{"field":"sy","type":"quantitative"},"text":{"field":"sig"}}},
    {"data":{"name":"nd"},"transform":[{"filter":"datum.gene=='CESA6'"}],"mark":{"type":"text","text":"ND","fontSize":14,"baseline":"middle"},"encoding":{"x":{"field":"slot","type":"nominal"},"y":{"datum":8.5}}},
    {"data":{"values":[{}]},"mark":{"type":"text","text":"PpCESA6","fontSize":16,"baseline":"middle","dx":8.8},"encoding":{"y":{"datum":135.1}}}
   ]
  },
  {"width":389,"height":180.5,
   "layer":[
    {"data":{"name":"bBars"},"transform":[{"filter":"datum.gene=='CESA7'"}],"mark":{"type":"bar","width":{"band":0.92}},
     "encoding":{
      "x":{"field":"slot","type":"nominal","scale":{"domain":["4|1","4|2","4|3","7|1","7|2","7|3","8|1","8|2","8|3","4,7|1","4,7|2","4,7|3","4,8|1","4,8|2","4,8|3","7,8|1","7,8|2","7,8|3","4,7,8|1","4,7,8|2","4,7,8|3"],"paddingInner":0,"paddingOuter":0},"axis":{"title":null,"domain":false,"ticks":false,"tickSize":0,"labelAngle":0,"labelFontStyle":"italic","labelFontSize":15,"labelPadding":-15.8,"labelExpr":"indexof(datum.value,'|2') > 0 ? replace(datum.value,'|2','') : ''"}},
      "y":{"field":"mean","type":"quantitative","scale":{"domain":[-25,120]},"axis":{"values":[-25,0,25,50,75,100],"labelExpr":"''+datum.value","title":null,"tickSize":6,"tickColor":"#808080","domainColor":"#808080","labelFontSize":15,"labelPadding":3}},
      "y2":{"datum":0},
      "color":{"field":"grp","type":"nominal","scale":{"domain":["7","8","4,7","7,8"],"range":["#B9DBA3","#B0CEEB","#DDD5B2","#B8D7CF"]},"legend":null}}},
    {"data":{"values":[{}]},"mark":{"type":"rule","color":"#404040","strokeWidth":1},"encoding":{"y":{"datum":0}}},
    {"data":{"name":"bPts"},"transform":[{"filter":"datum.gene=='CESA7'"}],"mark":{"type":"point","filled":false,"size":90,"stroke":"#404040","strokeWidth":1,"opacity":1},"encoding":{"x":{"field":"slot","type":"nominal"},"y":{"field":"value","type":"quantitative"}}},
    {"data":{"name":"bBars"},"transform":[{"filter":"datum.gene=='CESA7'"}],"mark":{"type":"rule","strokeWidth":2,"color":"#000"},"encoding":{"x":{"field":"slot","type":"nominal"},"y":{"field":"lo","type":"quantitative"},"y2":{"field":"hi"}}},
    {"data":{"name":"bBars"},"transform":[{"filter":"datum.gene=='CESA7'"}],"mark":{"type":"tick","size":8,"thickness":2,"color":"#000"},"encoding":{"x":{"field":"slot","type":"nominal"},"y":{"field":"lo","type":"quantitative"}}},
    {"data":{"name":"bBars"},"transform":[{"filter":"datum.gene=='CESA7'"}],"mark":{"type":"tick","size":8,"thickness":2,"color":"#000"},"encoding":{"x":{"field":"slot","type":"nominal"},"y":{"field":"hi","type":"quantitative"}}},
    {"data":{"name":"bBars"},"transform":[{"filter":"datum.gene=='CESA7' && datum.sig"}],"mark":{"type":"text","fontSize":15,"angle":90,"align":"left","baseline":"middle","dx":-3,"dy":3},"encoding":{"x":{"field":"slot","type":"nominal"},"y":{"field":"sy","type":"quantitative"},"text":{"field":"sig"}}},
    {"data":{"name":"nd"},"transform":[{"filter":"datum.gene=='CESA7'"}],"mark":{"type":"text","text":"ND","fontSize":14,"baseline":"middle"},"encoding":{"x":{"field":"slot","type":"nominal"},"y":{"datum":8.5}}},
    {"data":{"values":[{}]},"mark":{"type":"text","text":"PpCESA7","fontSize":16,"baseline":"middle","dx":13.8},"encoding":{"y":{"datum":116.5}}}
   ]
  }
 ]}
]
}
